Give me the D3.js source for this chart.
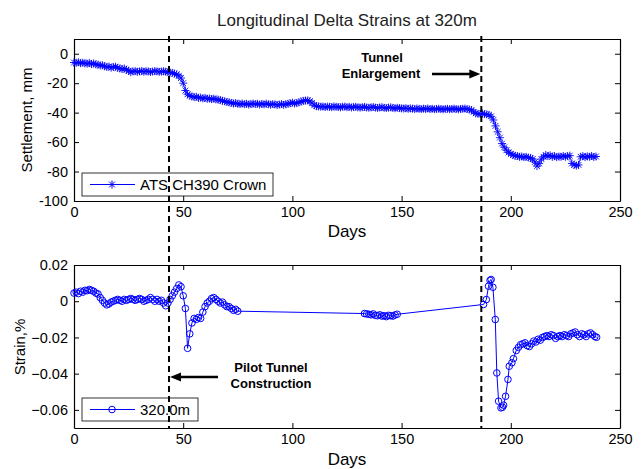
<!DOCTYPE html>
<html>
<head>
<meta charset="utf-8">
<script src="https://cdn.jsdelivr.net/npm/d3@7"></script>
<style>
body{margin:0;background:#fff}
text{font-family:Arial,"Liberation Sans",sans-serif}
</style>
</head>
<body>
<script>
// settlement readings, ATS CH390 Crown (mm)
var setDays = [
  0,1,2,3,4,5,6,7,8,9,10,11,12,13,14,15,16,17,18,19,
  20,21,22,23,24,25,26,27,28,29,30,31,32,33,34,35,36,37,38,39,
  40,41,42,43,44,45,46,47,48,49,50,51,52,53,54,55,56,57,58,59,
  60,61,62,63,64,65,66,67,68,69,70,71,72,73,74,75,76,77,78,79,
  80,81,82,83,84,85,86,87,88,89,90,91,92,93,94,95,96,97,98,99,
  100,101,102,103,104,105,106,107,108,109,110,111,112,113,114,115,116,117,118,119,
  120,121,122,123,124,125,126,127,128,129,130,131,132,133,134,135,136,137,138,139,
  140,141,142,143,144,145,146,147,148,149,150,151,152,153,154,155,156,157,158,159,
  160,161,162,163,164,165,166,167,168,169,170,171,172,173,174,175,176,177,178,179,
  180,181,182,183,184,185,186,187,188,189,190,191,192,193,194,195,196,197,198,199,
  200,201,202,203,204,205,206,207,208,209,210,211,212,213,214,215,216,217,218,219,
  220,221,222,223,224,225,226,227,228,229,230,231,232,233,234,235,236,237,238,239
];
var setVals = [
  -6,-6.2,-5.8,-6.4,-6.1,-6.5,-6.8,-6.3,-7,-6.6,
  -7.2,-7.5,-8,-7.8,-8.5,-9,-8.7,-9.5,-9,-8.8,
  -9.6,-10,-10.4,-10,-11,-11.5,-12.5,-12,-11.8,-12.3,
  -12,-11.8,-12.2,-11.9,-12,-12.4,-12.1,-11.8,-12,-12.3,
  -12.1,-11.9,-12.2,-12.5,-12.8,-13,-13.5,-14,-15,-16.5,
  -20,-25,-27.5,-28.5,-29,-29.5,-29.2,-30,-29.8,-30.3,
  -30,-30.6,-30.4,-30.8,-30.5,-31,-31.2,-31.5,-32,-32.3,
  -32.8,-33,-33.4,-33.8,-33.5,-34,-34.2,-33.8,-34.3,-34,
  -34.5,-34.2,-33.8,-34.2,-34,-34.5,-34.1,-34.4,-33.9,-34.3,
  -34.6,-34.2,-34.4,-34.8,-34.5,-34.2,-34.7,-34.3,-34,-33.6,
  -33.2,-33.8,-33.5,-33,-32.5,-32,-31.8,-31.7,-32.2,-33.5,
  -35,-35.6,-35.8,-36,-35.8,-36.2,-35.9,-36.1,-36.3,-35.8,
  -36,-36.2,-36.4,-36,-35.9,-36.3,-36.1,-36.5,-36.2,-36,
  -36.4,-36.6,-36.3,-36.1,-36.5,-36.7,-36.4,-36.2,-36.6,-36.8,
  -36.5,-36.3,-36.7,-36.9,-36.6,-36.4,-36.8,-37,-36.7,-36.9,
  -37.1,-37.2,-37,-37.4,-37.1,-37.3,-37.5,-37.2,-37.4,-37.6,
  -37.3,-37.5,-37.2,-37.6,-37.4,-37.7,-37.5,-37.3,-37.6,-37.8,
  -37.5,-37.4,-37.7,-37.5,-37.3,-37.6,-37.8,-37.5,-37.4,-37.2,
  -37.6,-37.9,-38.2,-39.5,-40.5,-40.8,-41,-40.6,-41,-41.2,
  -41.5,-42.5,-45,-49,-53,-57,-61,-63.5,-65.5,-67,
  -68,-68.8,-69.3,-69.5,-70,-69.8,-70.2,-70,-70.5,-70.8,
  -71.5,-73.5,-76.3,-74.5,-71.5,-70,-68.8,-69.5,-69,-70,
  -69.5,-70.2,-69.8,-70,-69.4,-70,-69.5,-69.2,-74.5,-75.5,
  -76,-75.5,-70,-69.5,-70.2,-69.7,-70,-69.4,-70.1,-69.8
];

// delta strain at 320.0m (%)
var strainDays = [
  0,1,2,3,4,5,6,7,8,9,10,11,12,13,14,15,16,17,18,19,
  20,21,22,23,24,25,26,27,28,29,30,31,32,33,34,35,36,37,38,39,
  40,41,42,43,44,45,46,47,48,49,50,51,52,53,54,55,56,57,58,59,
  60,61,62,63,64,65,66,67,68,69,70,71,72,73,74,75,
  133,134,135,136,137,138,139,140,141,142,143,144,145,146,147,148,
  187.5,188.8,189.8,190.5,191,191.8,192.9,193.6,194.4,195.5,196.2,196.7,197.6,198.7,199.3,
  200.5,201.2,202.5,203.5,204.5,205.5,206.5,207.5,208.5,209.5,210.5,211.5,212.5,213.5,214.5,
  215.5,216.5,217.5,218.5,219.5,220.5,221.5,222.5,223.5,224.5,225.5,226.5,227.5,228.5,229.5,
  230.5,231.5,232.5,233.5,234.5,235.5,236.5,237.5,238.5,239.3
];
var strainVals = [
  0.0045,0.005,0.0042,0.0055,0.005,0.006,0.0058,0.0065,0.006,0.0055,
  0.0045,0.004,0.002,0.0005,-0.001,-0.002,-0.0015,-0.0005,0,0.0005,
  0.001,0.0005,0,0.001,0.0005,0.001,0.0015,0.001,0.0005,0.001,
  0.0015,0.001,0,0.0005,0.001,0.002,0.001,0,0.001,0,
  0.0005,-0.001,-0.0025,-0.001,0.001,0.003,0.005,0.007,0.009,0.008,
  0.003,-0.004,-0.026,-0.018,-0.012,-0.0095,-0.01,-0.009,-0.0095,-0.006,
  -0.003,-0.001,0,0.0015,0.002,0.001,0,-0.001,-0.0005,-0.002,
  -0.003,-0.003,-0.004,-0.005,-0.0045,-0.0055,
  -0.0068,-0.007,-0.0072,-0.0075,-0.007,-0.0078,-0.008,-0.0075,-0.0082,-0.008,
  -0.0085,-0.0078,-0.008,-0.0082,-0.0076,-0.0072,
  -0.0018,0.0009,0.0083,0.0115,0.012,0.0077,-0.0101,-0.0396,-0.0552,-0.0589,
  -0.0585,-0.0574,-0.0525,-0.0432,-0.0359,-0.034,-0.0317,-0.0272,-0.0255,-0.024,
  -0.0235,-0.023,-0.0245,-0.025,-0.0235,-0.022,-0.0225,-0.021,-0.0215,-0.02,
  -0.0195,-0.019,-0.0195,-0.0185,-0.019,-0.0205,-0.0195,-0.019,-0.0195,-0.0185,
  -0.019,-0.0195,-0.018,-0.0175,-0.017,-0.0185,-0.0195,-0.018,-0.0185,-0.0195,
  -0.018,-0.0175,-0.0185,-0.0195,-0.0199
];

var xTicks = [0,50,100,150,200,250];
var setTicks = [0,-20,-40,-60,-80,-100];
var strainTicks = [0.02,0,-0.02,-0.04,-0.06];
var eventDays = [43.5,186.5]; // pilot tunnel, enlargement

var W = 641, H = 469;
var left = 74, right = 620;
var blue = "#0000ff";

var svg = d3.select("body").append("svg").attr("width",W).attr("height",H);
svg.append("rect").attr("width",W).attr("height",H).attr("fill","#fff");

var x = d3.scaleLinear().domain([0,250]).range([left,right]);
var yTop = d3.scaleLinear().domain([-100,10]).range([201,39]);
var yBot = d3.scaleLinear().domain([-0.07,0.02]).range([428,265]);

function frame(y, ticks, fmt){
  var top = y.range()[1], bot = y.range()[0];
  var g = svg.append("g");
  g.append("g").attr("transform","translate(0,"+bot+")")
    .call(d3.axisBottom(x).tickValues(xTicks).tickSizeInner(-5).tickSizeOuter(0).tickPadding(6));
  g.append("g").attr("transform","translate(0,"+top+")")
    .call(d3.axisTop(x).tickValues(xTicks).tickSizeInner(-5).tickSizeOuter(0).tickFormat(""));
  g.append("g").attr("transform","translate("+left+",0)")
    .call(d3.axisLeft(y).tickValues(ticks).tickFormat(fmt).tickSizeInner(-5).tickSizeOuter(0).tickPadding(6));
  g.append("g").attr("transform","translate("+right+",0)")
    .call(d3.axisRight(y).tickValues(ticks).tickSizeInner(-5).tickSizeOuter(0).tickFormat(""));
  g.selectAll(".domain").attr("stroke","#000").attr("stroke-width",1.2);
  g.selectAll(".tick line").attr("stroke","#000");
  g.selectAll(".tick text").attr("font-size","14.5px").attr("fill","#000")
    .attr("font-family","Arial, 'Liberation Sans', sans-serif");
}

frame(yTop, setTicks, function(d){ return d; });
frame(yBot, strainTicks, function(d){ return d === 0 ? "0" : d3.format(".2f")(d); });

// top series
var setData = setDays.map(function(d,i){ return [d, setVals[i]]; });
svg.append("path").datum(setData)
  .attr("d", d3.line().x(function(d){ return x(d[0]); }).y(function(d){ return yTop(d[1]); }))
  .attr("fill","none").attr("stroke",blue).attr("stroke-width",0.8);
var star = "M-4,0H4M0,-4V4M-2.9,-2.9L2.9,2.9M-2.9,2.9L2.9,-2.9";
svg.append("g").selectAll("path").data(setData).enter().append("path")
  .attr("transform", function(d){ return "translate("+x(d[0])+","+yTop(d[1])+")"; })
  .attr("d", star).attr("stroke",blue).attr("stroke-width",0.9).attr("fill","none");

// bottom series
var strainData = strainDays.map(function(d,i){ return [d, strainVals[i]]; });
svg.append("path").datum(strainData)
  .attr("d", d3.line().x(function(d){ return x(d[0]); }).y(function(d){ return yBot(d[1]); }))
  .attr("fill","none").attr("stroke",blue).attr("stroke-width",1);
svg.append("g").selectAll("circle").data(strainData).enter().append("circle")
  .attr("cx", function(d){ return x(d[0]); })
  .attr("cy", function(d){ return yBot(d[1]); })
  .attr("r", 3.3).attr("fill","none").attr("stroke",blue).attr("stroke-width",1);

// legends
function legend(y0, w, label, marker){
  svg.append("rect").attr("x",82).attr("y",y0).attr("width",w).attr("height",23)
    .attr("fill","#fff").attr("stroke","#000").attr("stroke-width",0.8);
  svg.append("line").attr("x1",90).attr("x2",135).attr("y1",y0+11.5).attr("y2",y0+11.5)
    .attr("stroke",blue).attr("stroke-width",1);
  if (marker === "star") {
    svg.append("path").attr("transform","translate(112,"+(y0+11.5)+")").attr("d",star)
      .attr("stroke",blue).attr("fill","none");
  } else {
    svg.append("circle").attr("cx",112).attr("cy",y0+11.5).attr("r",3.3)
      .attr("stroke",blue).attr("fill","none");
  }
  svg.append("text").attr("x",140).attr("y",y0+17).attr("font-size","15px").text(label);
}
legend(173, 191, "ATS CH390 Crown", "star");
legend(398, 116, "320.0m", "circle");

// event lines
svg.append("g").selectAll("line").data(eventDays).enter().append("line")
  .attr("x1", function(d){ return x(d); }).attr("x2", function(d){ return x(d); })
  .attr("y1", 36).attr("y2", 428)
  .attr("stroke","#000").attr("stroke-width",2).attr("stroke-dasharray","6,4");

// annotations
function arrow(x1, x2, y){
  var dir = x2 > x1 ? 1 : -1;
  svg.append("line").attr("x1",x1).attr("x2",x2 - dir*8).attr("y1",y).attr("y2",y)
    .attr("stroke","#000").attr("stroke-width",2.5);
  svg.append("path")
    .attr("d","M"+x2+","+y+"L"+(x2-dir*11)+","+(y-4.5)+"L"+(x2-dir*11)+","+(y+4.5)+"Z")
    .attr("fill","#000");
}
arrow(432, x(eventDays[1]) - 1, 74);
arrow(218, x(eventDays[0]) + 1, 377);

function bold(tx, ty, s){
  svg.append("text").attr("x",tx).attr("y",ty).attr("text-anchor","middle")
    .attr("font-size","13px").attr("font-weight","bold").text(s);
}
bold(382, 62, "Tunnel");
bold(381, 78, "Enlargement");
bold(271, 372, "Pilot Tunnel");
bold(271, 388, "Construction");

// titles
svg.append("text").attr("x",347).attr("y",26).attr("text-anchor","middle")
  .attr("font-size","17px").attr("fill","#222").text("Longitudinal Delta Strains at 320m");
svg.append("text").attr("x",347).attr("y",237).attr("text-anchor","middle")
  .attr("font-size","17px").text("Days");
svg.append("text").attr("x",347).attr("y",465).attr("text-anchor","middle")
  .attr("font-size","17px").text("Days");
svg.append("text").attr("transform","translate(27,120) rotate(-90)").attr("dy","0.35em")
  .attr("text-anchor","middle").attr("font-size","15px").text("Settlement, mm");
svg.append("text").attr("transform","translate(20,347) rotate(-90)").attr("dy","0.35em")
  .attr("text-anchor","middle").attr("font-size","15px").text("Strain,%");
</script>
</body>
</html>
